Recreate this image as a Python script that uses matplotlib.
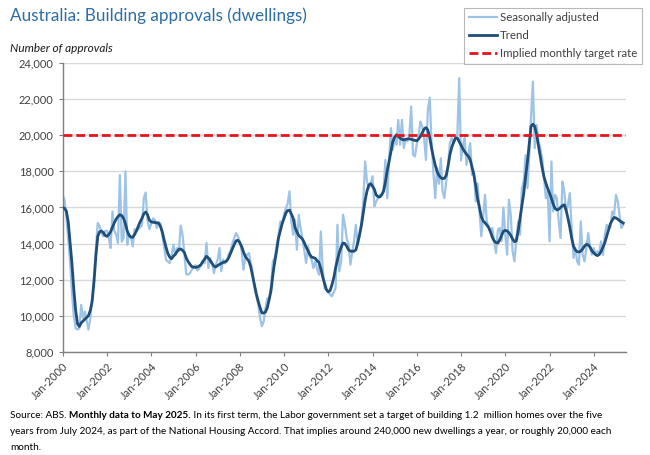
import matplotlib
matplotlib.use("Agg")
import matplotlib.pyplot as plt
import matplotlib.dates as mdates
import pandas as pd
import numpy as np

plt.rcParams['font.family'] = ['Lato', 'DejaVu Sans']

start_month = "2000-01-01"
n_months = 305

seasonally_adjusted = [
    # 2000
    16700, 16400, 15500, 14200, 13000, 11300, 10000, 9300, 9230, 9300, 10600, 9870,
    # 2001
    10230, 9700, 9230, 9870, 11000, 12200, 13700, 15140, 14950, 14600, 14400, 14700,
    # 2002
    14700, 14300, 13750, 15780, 14700, 14500, 14030, 17800, 14100, 14300, 18000, 13930,
    # 2003
    14500, 14400, 13840, 14800, 14700, 14800, 14900, 15000, 16520, 16830, 15300, 14800,
    # 2004
    15100, 15400, 15300, 14860, 15200, 15100, 14500, 13800, 13100, 13000, 12920, 13300,
    # 2005
    13940, 13380, 13750, 13600, 15000, 14490, 13380, 12300, 12270, 12360, 12540, 12700,
    # 2006
    12800, 12500, 12600, 12800, 13000, 12900, 14030, 12640, 13200, 12900, 12360, 12830,
    # 2007
    13100, 13750, 12460, 13100, 12900, 13000, 13400, 13600, 14000, 14300, 14580, 14400,
    # 2008
    14120, 13600, 12550, 13200, 13380, 13470, 12920, 12400, 11540, 11100, 10620, 9900,
    # 2009
    9410, 9700, 10420, 10960, 10890, 11700, 13010, 13200, 13930, 14400, 15230, 15100,
    # 2010
    15600, 15960, 16200, 16890, 15230, 14490, 15320, 13660, 15590, 14860, 14300, 13600,
    # 2011
    12920, 13850, 13300, 13100, 12640, 13010, 12600, 12270, 14670, 12640, 11530, 11440,
    # 2012
    11300, 11170, 11070, 11300, 11530, 15040, 12450, 13000, 15600, 15040, 14300, 13930,
    # 2013
    12830, 13570, 14120, 15040, 13930, 14400, 15230, 16330, 18550, 17440, 17080, 17300,
    # 2014
    17730, 16060, 16330, 16520, 16700, 16700, 16890, 18640, 16520, 18640, 20400, 19200,
    # 2015
    19850, 19480, 20860, 19480, 20860, 19300, 19750, 19670, 20030, 21600, 18920, 18830,
    # 2016
    19500, 20030, 20770, 20500, 19850, 18640, 21360, 22100, 19660, 18000, 16520, 18180,
    # 2017
    17310, 18730, 16890, 16520, 17440, 18360, 19580, 19850, 19570, 19850, 20030, 23170,
    # 2018
    18610, 19480, 19850, 18360, 18920, 19570, 17810, 18000, 16330, 17330, 15870, 14400,
    # 2019
    15500, 16700, 15230, 14900, 14670, 14860, 14120, 13480, 14770, 14860, 14120, 16000,
    # 2020
    14500, 13380, 16430, 15590, 13560, 13010, 14200, 15230, 14490, 17080, 17440, 18900,
    # 2021
    17080, 18920, 21000, 22980, 19290, 20580, 19660, 19290, 18730, 17630, 16520, 16900,
    # 2022
    14120, 18550, 15780, 16700, 16520, 15230, 14300, 17440, 16890, 15780, 16150, 16800,
    # 2023
    14860, 13200, 13750, 13010, 12830, 15230, 13380, 13010, 13750, 14580, 13750, 13380,
    # 2024
    13750, 13380, 13570, 13500, 14120, 13380, 14490, 15040, 14860, 14900, 15780, 15590,
    # 2025
    16700, 16330, 15590, 14860, 15040,
]

trend = [
    # 2000
    16000, 15950, 15800, 15200, 14100, 12900, 11500, 10300, 9550, 9400, 9600, 9700,
    # 2001
    9800, 9900, 10000, 10300, 10800, 11900, 13300, 14400, 14650, 14700, 14600, 14450,
    # 2002
    14400, 14500, 14650, 14900, 15150, 15350, 15500, 15600, 15550, 15400, 15100, 14700,
    # 2003
    14450, 14350, 14350, 14500, 14700, 14950, 15200, 15400, 15650, 15750, 15600, 15300,
    # 2004
    15200, 15180, 15170, 15150, 15130, 14950, 14650, 14200, 13800, 13450, 13250, 13160,
    # 2005
    13300, 13400, 13550, 13680, 13700, 13620, 13500, 13200, 13000, 12850, 12720, 12690,
    # 2006
    12680, 12700, 12750, 12830, 13000, 13150, 13290, 13200, 13050, 12900, 12750, 12700,
    # 2007
    12780, 12850, 12900, 12950, 12980, 13050, 13200, 13450, 13700, 13940, 14150, 14180,
    # 2008
    14050, 13840, 13550, 13290, 13150, 13020, 12700, 12200, 11700, 11200, 10800, 10450,
    # 2009
    10150, 10150, 10200, 10450, 10900, 11400, 12270, 13000, 13600, 14300, 14700, 15100,
    # 2010
    15400, 15700, 15830, 15850, 15650, 15400, 14900, 14650, 14450, 14350, 14250, 14050,
    # 2011
    13800, 13600, 13400, 13250, 13220, 13180, 13050, 12950, 12600, 12150, 11800, 11450,
    # 2012
    11320, 11400, 11700, 12100, 12650, 13100, 13500, 13800, 14030, 14000, 13850, 13650,
    # 2013
    13580, 13570, 13570, 13650, 14030, 14500, 15000, 15700, 16400, 16900, 17250, 17320,
    # 2014
    17180, 17000, 16700, 16600, 16580, 16700, 16900, 17400, 18050, 18550, 19100, 19650,
    # 2015
    19900, 20030, 19950, 19850, 19780, 19750, 19780, 19800, 19810, 19780, 19750, 19720,
    # 2016
    19700, 19800, 19940, 20150, 20350, 20430, 20300, 19900, 19300, 18800, 18350, 18000,
    # 2017
    17780, 17650, 17600, 17620, 17780, 18300, 18920, 19350, 19620, 19850, 19850, 19650,
    # 2018
    19450, 19250, 19100, 18950, 18850, 18650, 18250, 17800, 17200, 16500, 16000, 15500,
    # 2019
    15250, 15150, 15030, 14900, 14650, 14350, 14150, 14050, 14030, 14200, 14450, 14680,
    # 2020
    14730, 14700, 14600, 14450, 14250, 14100, 14150, 14700, 15400, 16100, 16800, 17700,
    # 2021
    18550, 19600, 20500, 20620, 20500, 20050, 19450, 18850, 18200, 17700, 17350, 17050,
    # 2022
    16800, 16500, 16200, 15950, 15870, 15900, 16000, 16100, 16150, 15850, 15400, 14900,
    # 2023
    14300, 13850, 13650, 13550, 13530, 13580, 13700, 13850, 13950, 13930, 13800, 13600,
    # 2024
    13480, 13380, 13330, 13400, 13560, 13800, 14050, 14400, 14750, 15100, 15300, 15450,
    # 2025
    15420, 15350, 15270, 15200, 15140,
]

target_rate = 20000
y_ticks = [8000, 10000, 12000, 14000, 16000, 18000, 20000, 22000, 24000]

title_text = "Australia: Building approvals (dwellings)"
ylabel_text = "Number of approvals"
legend_labels = ["Seasonally adjusted", "Trend", "Implied monthly target rate"]

dates = pd.date_range(start_month, periods=n_months, freq="MS")

fig = plt.figure(figsize=(6.5, 4.55), dpi=100)
ax = fig.add_axes([0.0965, 0.227, 0.8665, 0.634])

sa_color = "#9DC3E6"
trend_color = "#1F4E79"
red = "#E8141B"

l1, = ax.plot(dates, seasonally_adjusted, color=sa_color, lw=1.6, zorder=2)
l2, = ax.plot(dates, trend, color=trend_color, lw=2.0, zorder=3)
l3 = ax.axhline(target_rate, color=red, lw=2.0, ls=(0, (3.2, 1.4)), zorder=4)

ax.set_ylim(8000, 24000)
ax.set_yticks(y_ticks)
ax.yaxis.set_major_formatter(matplotlib.ticker.FuncFormatter(lambda v, p: f"{int(v):,}"))
ax.set_xlim(pd.Timestamp("2000-01-01"), pd.Timestamp("2025-06-15"))
ax.xaxis.set_major_locator(mdates.YearLocator(2, month=1, day=1))
ax.xaxis.set_major_formatter(mdates.DateFormatter("%b-%Y"))

ax.grid(axis="y", color="#D9D9D9", lw=1.0, zorder=0)
ax.set_axisbelow(True)
for s in ["top", "right"]:
    ax.spines[s].set_visible(False)
for s in ["left", "bottom"]:
    ax.spines[s].set_color("#808080")
    ax.spines[s].set_linewidth(1.0)
ax.tick_params(axis="both", colors="#808080", labelcolor="#404040", labelsize=8, length=3)
plt.setp(ax.get_xticklabels(), rotation=45, ha="right", rotation_mode="anchor")

fig.text(10/650, 1-16/455, title_text, color="#2E6DA4", fontsize=12.3, va="center", ha="left")
fig.text(10/650, 1-48/455, ylabel_text, color="#1a1a1a", fontsize=8.5, style="italic", va="center", ha="left")

leg = fig.legend([l1, l2, l3], legend_labels, loc="upper right",
                 bbox_to_anchor=(642/650, 1-8/455), fontsize=8.3, frameon=True,
                 fancybox=False, edgecolor="#A6A6A6", handlelength=2.5,
                 handletextpad=0.25, labelspacing=0.6, borderpad=0.38,
                 borderaxespad=0.0, labelcolor="#404040")
leg.get_frame().set_linewidth(0.8)

fs = 7.2
t1 = fig.text(10/650, 1-415/455, "Source: ABS. ", fontsize=fs, va="center", ha="left", color="#000000")
a2 = fig.add_artist(matplotlib.text.Annotation("Monthly data to May 2025.", xy=(1, 0.5), xycoords=t1,
                    va="center", ha="left", fontsize=fs, fontweight="bold"))
a3 = fig.add_artist(matplotlib.text.Annotation(" In its first term, the Labor government set a target of building 1.2  million homes over the five",
                    xy=(1, 0.5), xycoords=a2, va="center", ha="left", fontsize=fs))
fig.text(10/650, 1-431/455, "years from July 2024, as part of the National Housing Accord. That implies around 240,000 new dwellings a year, or roughly 20,000 each",
         fontsize=fs, va="center", ha="left")
fig.text(10/650, 1-447/455, "month.", fontsize=fs, va="center", ha="left")

fig.savefig("out.png", dpi=100)
